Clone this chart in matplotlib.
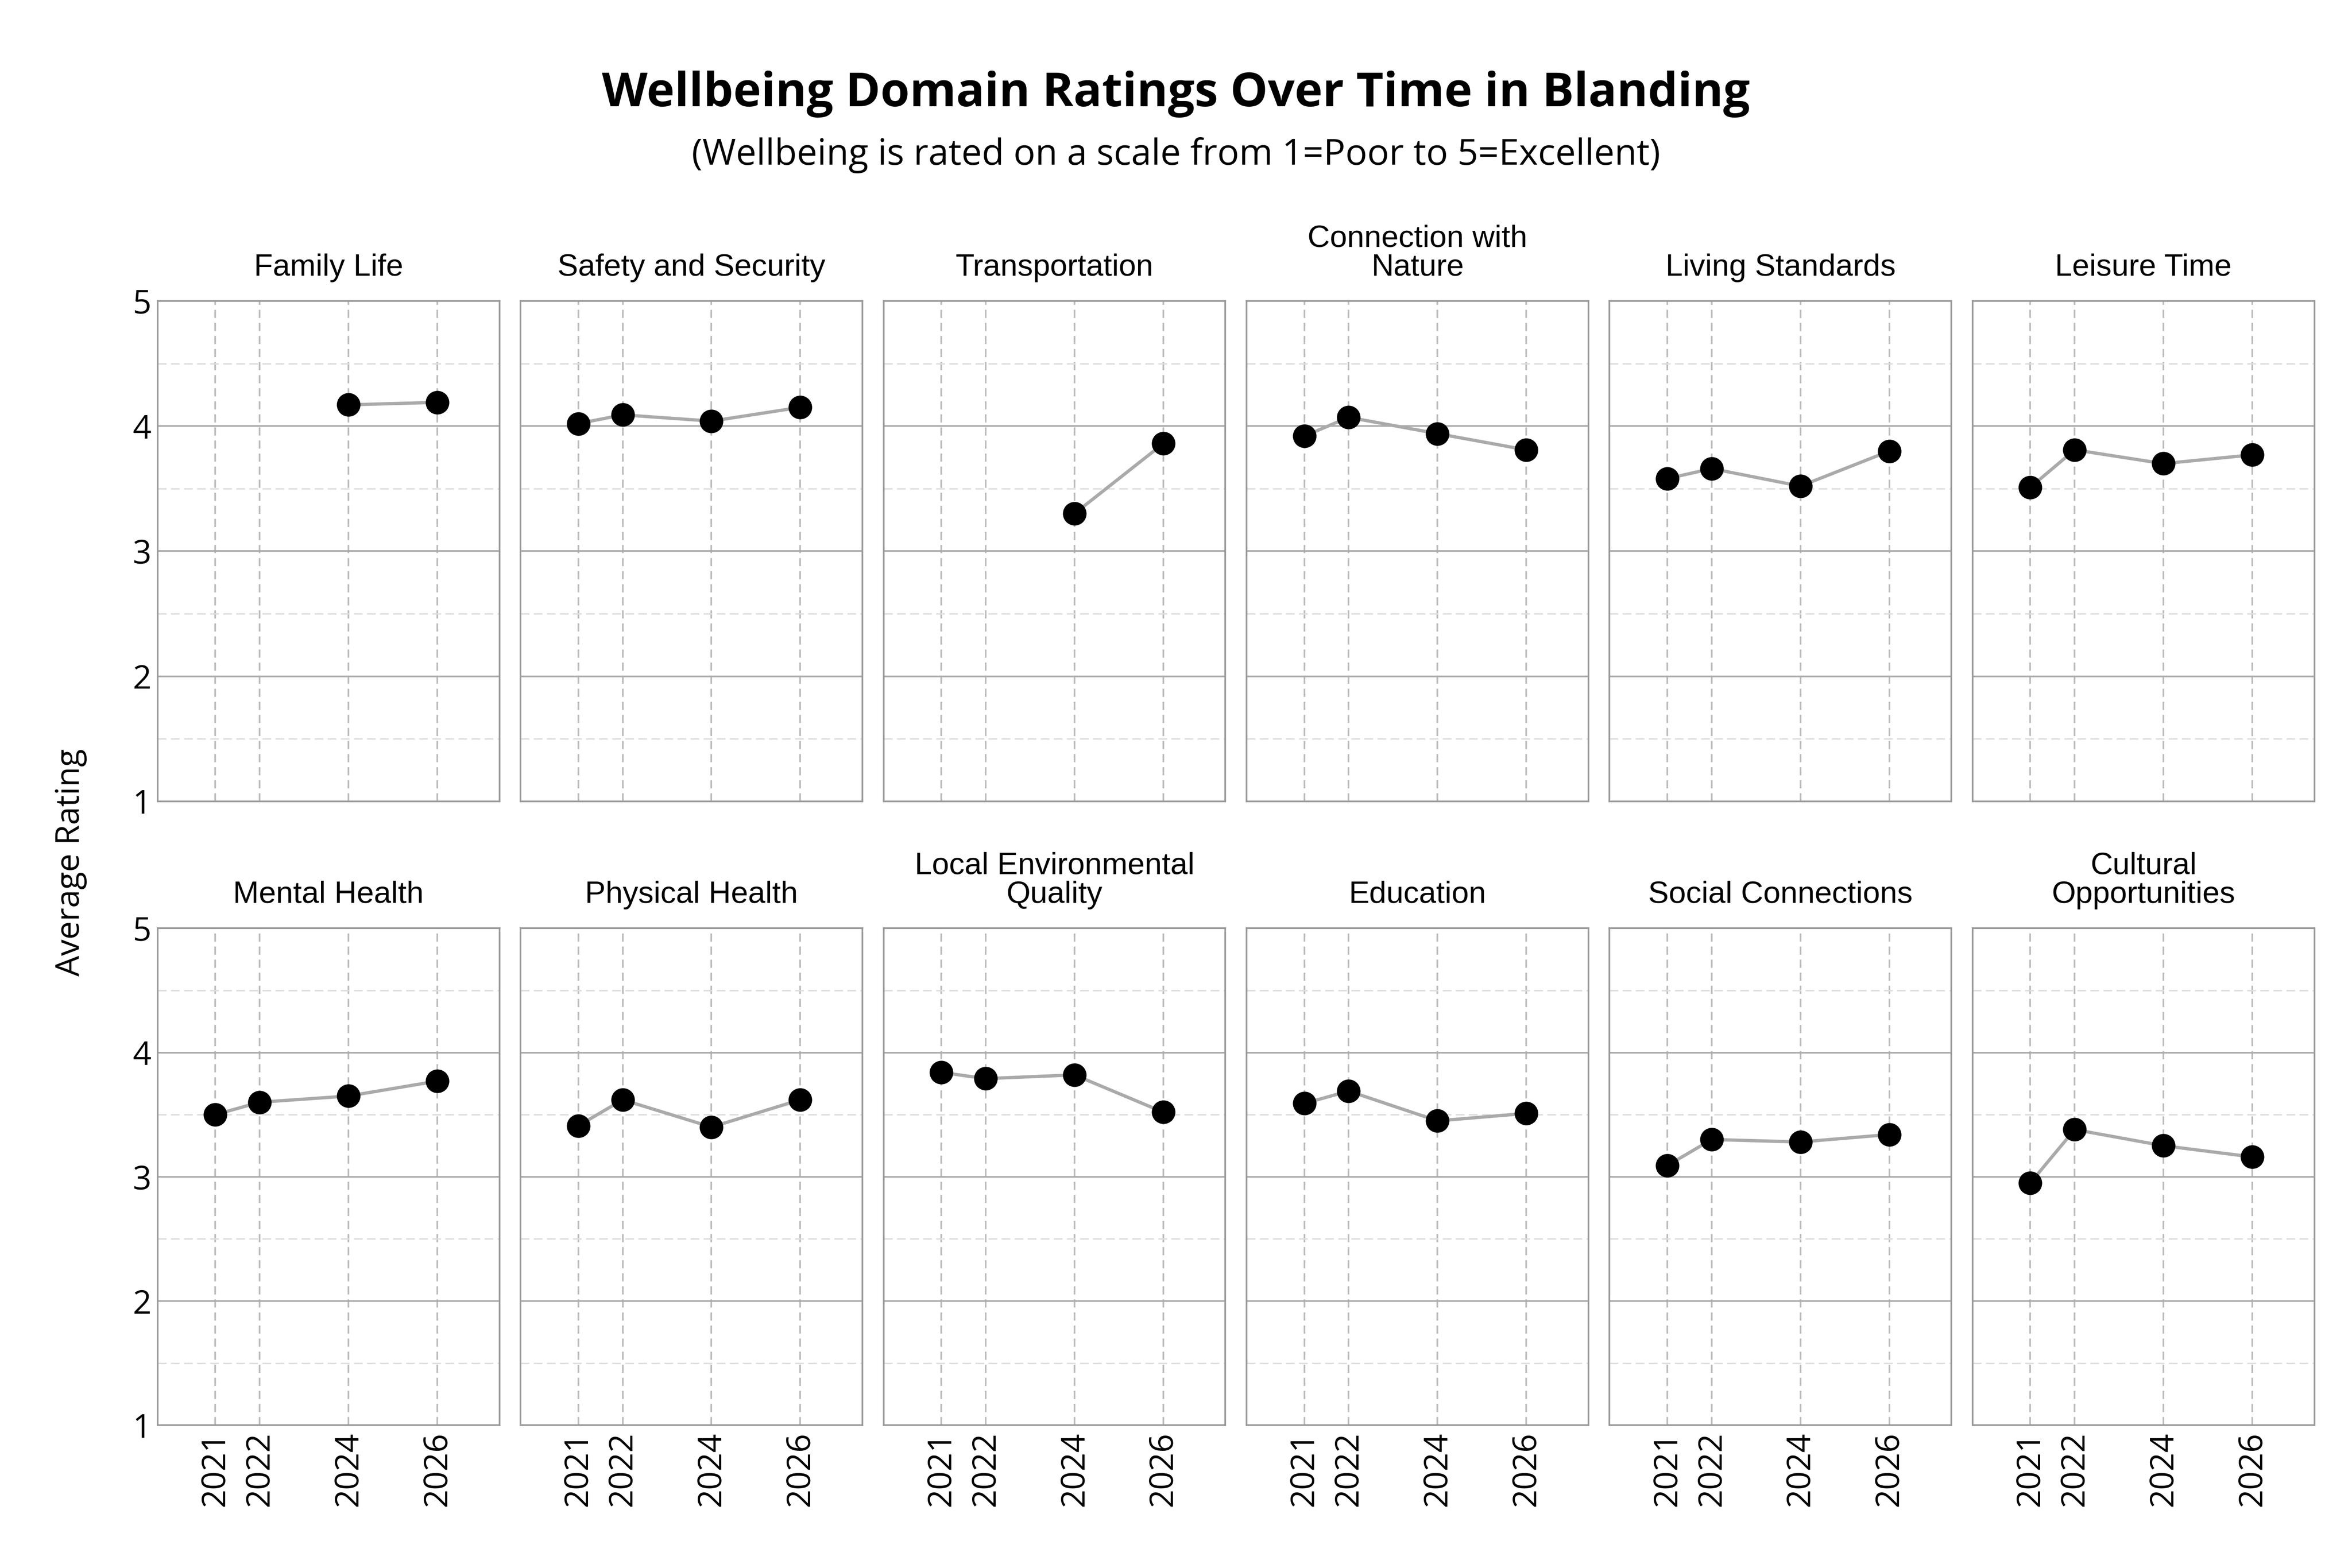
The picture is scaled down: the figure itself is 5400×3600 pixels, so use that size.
import numpy as np
import matplotlib
matplotlib.use("Agg")
import matplotlib.pyplot as plt

years = [2021, 2022, 2024, 2026]
nan = np.nan
domains = ["Family Life", "Safety and Security", "Transportation", "Connection with\nNature",
           "Living Standards", "Leisure Time", "Mental Health", "Physical Health",
           "Local Environmental\nQuality", "Education", "Social Connections", "Cultural\nOpportunities"]
family_life = [nan, nan, 4.17, 4.19]
safety = [4.02, 4.09, 4.04, 4.15]
transportation = [nan, nan, 3.30, 3.86]
nature = [3.92, 4.07, 3.94, 3.81]
living = [3.58, 3.66, 3.52, 3.80]
leisure = [3.51, 3.81, 3.70, 3.77]
mental = [3.50, 3.60, 3.65, 3.77]
physical = [3.41, 3.62, 3.40, 3.62]
environment = [3.84, 3.79, 3.82, 3.52]
education = [3.59, 3.69, 3.45, 3.51]
social = [3.09, 3.30, 3.28, 3.34]
cultural = [2.95, 3.38, 3.25, 3.16]
series = [family_life, safety, transportation, nature, living, leisure,
          mental, physical, environment, education, social, cultural]

fig = plt.figure(figsize=(18, 12), dpi=300)
left, right = 0.067, 0.984
gap = 14 / 1555
w = (right - left - 5 * gap) / 6
rows = [(0.489, 0.808), (0.091, 0.408)]
tickfont = "Open Sans"
for i, (name, vals) in enumerate(zip(domains, series)):
    r, c = divmod(i, 6)
    b, t = rows[r]
    ax = fig.add_axes([left + c * (w + gap), b, w, t - b])
    ax.set_xlim(2019.7, 2027.4)
    ax.set_ylim(1, 5)
    ax.set_yticks([1, 2, 3, 4, 5])
    ax.set_yticks([1.5, 2.5, 3.5, 4.5], minor=True)
    ax.set_xticks(years)
    ax.grid(axis="y", which="major", color="#aaaaaa", lw=0.9)
    ax.grid(axis="y", which="minor", color="#dddddd", lw=0.8, ls=(0, (6, 3)))
    ax.grid(axis="x", color="#bbbbbb", lw=0.9, ls=(0, (5, 3)))
    ax.set_axisbelow(True)
    for s in ax.spines.values():
        s.set_color("#999999")
        s.set_linewidth(0.9)
    ax.tick_params(which="both", length=0, labelsize=18)
    y = np.array(vals, float)
    m = ~np.isnan(y)
    xs = np.array(years)[m]
    ax.plot(xs, y[m], color="#aaaaaa", lw=1.8, zorder=2)
    ax.plot(xs, y[m], "o", color="black", ms=12, zorder=3)
    ax.set_title(name, fontsize=17, family="Liberation Sans", pad=14, linespacing=1.0)
    if c == 0:
        for lab in ax.get_yticklabels():
            lab.set_family(tickfont)
    else:
        ax.set_yticklabels([])
    if r == 1:
        ax.set_xticklabels([str(v) for v in years], rotation=90, family=tickfont)
    else:
        ax.set_xticklabels([])

fig.text(0.5, 0.94, "Wellbeing Domain Ratings Over Time in Blanding", ha="center",
         va="center", fontsize=26, fontweight="bold", family="Open Sans")
fig.text(0.5, 0.901, "(Wellbeing is rated on a scale from 1=Poor to 5=Excellent)", ha="center",
         va="center", fontsize=20, family="Open Sans")
fig.text(0.03, 0.45, "Average Rating", rotation=90, ha="center", va="center",
         fontsize=18, family="Open Sans")
fig.savefig("out.png", dpi=300)
